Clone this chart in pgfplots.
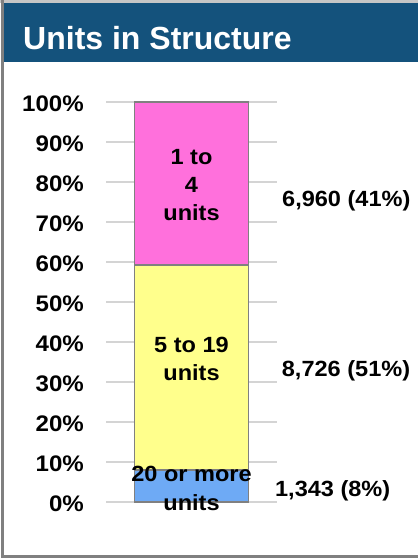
\documentclass[border=0pt]{standalone}
\usepackage{fontspec}
\usepackage{pgfplots}
\pgfplotsset{compat=1.18}
\setmainfont{Liberation Sans}
\newfontfamily\lab{Liberation Sans}[FakeStretch=1.07]

\definecolor{titleblue}{RGB}{20,82,124}
\definecolor{pinkc}{RGB}{255,112,220}
\definecolor{yellowc}{RGB}{255,255,140}
\definecolor{bluec}{RGB}{110,170,245}
\definecolor{bargray}{RGB}{128,128,128}
\definecolor{gridgray}{RGB}{212,212,212}

\tikzset{lbl/.style={font=\lab\bfseries\fontsize{22}{26}\selectfont, inner sep=0pt}}

\begin{document}
\begin{tikzpicture}
\useasboundingbox (0pt,0pt) rectangle (418pt,559pt);
% frame and title bar
\fill[gray!45] (0pt,556pt) rectangle (418pt,559pt);
\fill[bargray] (1pt,1pt) rectangle (4pt,559pt);
\fill[bargray] (1pt,1pt) rectangle (418pt,4pt);
\fill[titleblue] (4pt,497pt) rectangle (418pt,556pt);
\node[anchor=base west, inner sep=0pt, text=white,
  font=\bfseries\fontsize{32}{36}\selectfont] at (23pt,509.7pt) {Units in Structure};

\begin{axis}[
  at={(106pt,57.3pt)}, anchor=south west,
  scale only axis, width=171pt, height=400pt,
  xmin=0, xmax=1, ymin=0, ymax=100,
  axis line style={draw=none},
  major tick length=0pt,
  xtick=\empty,
  ytick={0,10,...,100},
  yticklabels={0\%,10\%,20\%,30\%,40\%,50\%,60\%,70\%,80\%,90\%,100\%},
  yticklabel style={font=\lab\bfseries\fontsize{22.5}{25}\selectfont,
    anchor=east, inner sep=0pt, xshift=-22pt, yshift=-2.5pt},
  ymajorgrids,
  grid style={line width=1.8pt, draw=gridgray},
  ybar stacked, bar width=114pt,
  clip=false,
]
\addplot[fill=bluec, draw=bargray, line width=1.8pt] coordinates {(0.5,7.89)};
\addplot[fill=yellowc, draw=bargray, line width=1.8pt] coordinates {(0.5,51.24)};
\addplot[fill=pinkc, draw=bargray, line width=1.8pt] coordinates {(0.5,40.87)};

% label anchors, the text is set after the axis so it lies over the bar
\coordinate (l1) at (axis cs:0.5,84.2);
\coordinate (l2) at (axis cs:0.5,77.2);
\coordinate (l3) at (axis cs:0.5,70.2);
\coordinate (l4) at (axis cs:0.5,37.2);
\coordinate (l5) at (axis cs:0.5,30.4);
\coordinate (l6) at (axis cs:0.5,5.0);
\coordinate (l7) at (axis cs:0.5,-2.1);
\coordinate (r1) at (axis cs:1.029,73.7);
\coordinate (r2) at (axis cs:1.0275,31.2);
\coordinate (r3) at (axis cs:0.988,1.2);
\end{axis}

\node[lbl, anchor=base] at (l1) {1 to};
\node[lbl, anchor=base] at (l2) {4};
\node[lbl, anchor=base] at (l3) {units};
\node[lbl, anchor=base] at (l4) {5 to 19};
\node[lbl, anchor=base] at (l5) {units};
\node[lbl, anchor=base] at (l6) {20 or more};
\node[lbl, anchor=base] at (l7) {units};
\node[lbl, anchor=base west] at (r1) {6,960 (41\%)};
\node[lbl, anchor=base west] at (r2) {8,726 (51\%)};
\node[lbl, anchor=base west] at (r3) {1,343 (8\%)};
\end{tikzpicture}
\end{document}
